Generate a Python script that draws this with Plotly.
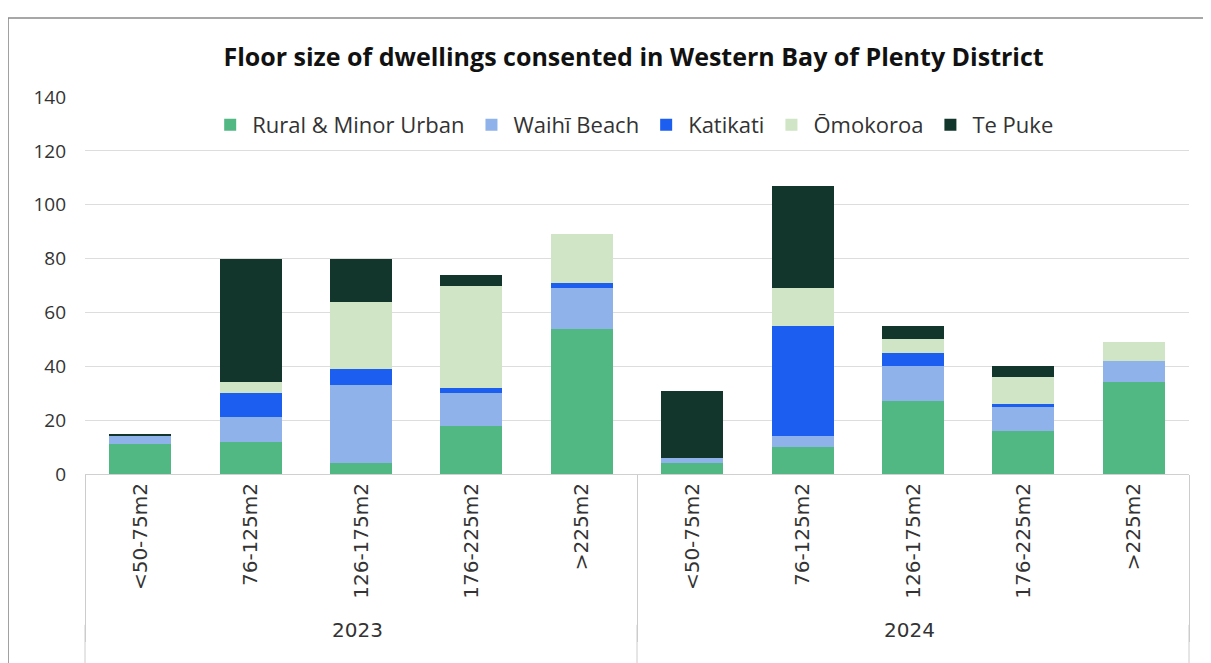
import plotly.graph_objects as go

years = ["2023"] * 5 + ["2024"] * 5
sizes = ["<50-75m2", "76-125m2", "126-175m2", "176-225m2", ">225m2"] * 2

rural = [11, 12, 4, 18, 54, 4, 10, 27, 16, 34]
waihi = [3, 9, 29, 12, 15, 2, 4, 13, 9, 8]
katikati = [0, 9, 6, 2, 2, 0, 41, 5, 1, 0]
omokoroa = [0, 4, 25, 38, 18, 0, 14, 5, 10, 7]
tepuke = [1, 46, 16, 4, 0, 25, 38, 5, 4, 0]

series = [
    ("Rural & Minor Urban", rural, "#52b883"),
    ("Waihī Beach", waihi, "#8fb2ea"),
    ("Katikati", katikati, "#1c5ff0"),
    ("Ōmokoroa", omokoroa, "#cfe5c5"),
    ("Te Puke", tepuke, "#12362b"),
]

fig = go.Figure()
for name, vals, col in series:
    fig.add_trace(go.Bar(x=[years, sizes], y=vals, name=name, marker_color=col,
                         marker_line_width=0))

# frame around the chart + divider lines running down to the bottom edge
shapes = [dict(type="rect", xref="paper", yref="paper",
               x0=-0.0697, x1=1.05, y0=-0.6, y1=1.2095,
               line=dict(color="#8a8a8a", width=1.5), fillcolor="rgba(0,0,0,0)",
               layer="below")]
for xp in [0, 0.5, 1]:
    shapes.append(dict(type="line", xref="paper", yref="paper", x0=xp, x1=xp,
                       y0=-0.40, y1=-0.6, line=dict(color="#cccccc", width=1)))

# page body has an 8px margin, so the figure is a bit smaller than the window
fig.update_layout(
    barmode="stack",
    bargap=0.44,
    width=1203, height=655,
    margin=dict(l=77, r=22, t=89, b=189),
    plot_bgcolor="white",
    paper_bgcolor="white",
    font=dict(family="Open Sans, sans-serif", size=17, color="#333333"),
    title=dict(text="<b>Floor size of dwellings consented in Western Bay of Plenty District</b>",
               x=0.52, xanchor="center", y=0.925, yanchor="middle",
               font=dict(family="Open Sans, sans-serif", size=25, color="#111111")),
    legend=dict(orientation="h", x=0.497, xanchor="center", y=0.926, yanchor="middle",
                font=dict(family="Open Sans, sans-serif", size=22, color="#333333"),
                itemwidth=34, traceorder="normal", bgcolor="rgba(0,0,0,0)"),
    shapes=shapes,
)

fig.update_yaxes(range=[0, 140], dtick=20, gridcolor="#dddddd", gridwidth=1,
                 zeroline=False, showline=False, ticks="", ticklabelstandoff=18,
                 tickfont=dict(family="Open Sans, sans-serif", size=19, color="#333333"))
fig.update_xaxes(type="multicategory", tickangle=-90,
                 tickfont=dict(family="DejaVu Sans, sans-serif", size=20, color="#333333"),
                 showline=True, linecolor="#d0d0d0", dividercolor="#cccccc", dividerwidth=1,
                 showgrid=False, ticks="")

fig.write_html("out.html")
